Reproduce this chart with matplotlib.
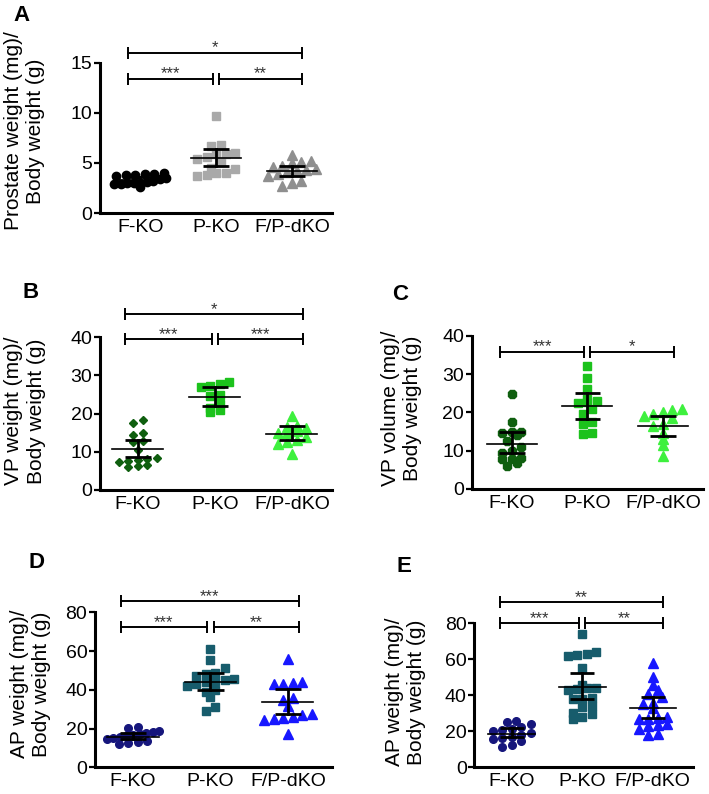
import matplotlib
matplotlib.use('Agg')
import matplotlib.pyplot as plt
import numpy as np

plt.rcParams['font.family'] = ['Liberation Sans', 'DejaVu Sans']

groups = ['F-KO', 'P-KO', 'F/P-dKO']

# A: prostate weight / body weight
a_fko = [4.0, 3.9, 3.9, 3.8, 3.8, 3.7, 3.5, 3.4, 3.2, 3.1, 3.0, 3.0, 3.0, 2.9, 2.9, 2.6]
a_pko = [9.7, 6.8, 6.7, 6.0, 5.9, 5.9, 5.6, 5.4, 5.1, 4.5, 4.4, 4.0, 4.0, 3.8, 3.7]
a_dko = [5.8, 5.2, 5.1, 5.0, 4.7, 4.6, 4.4, 4.3, 4.2, 4.1, 3.9, 3.7, 3.2, 3.0, 2.7]
a_mean = [3.3, 5.5, 4.2]
a_lo = [3.0, 4.7, 3.7]
a_hi = [3.6, 6.4, 4.7]

# B: VP weight / body weight
b_fko = [18.3, 17.5, 15.0, 14.5, 12.8, 12.5, 10.5, 8.3, 8.0, 7.8, 7.5, 7.3, 6.5, 6.3, 6.0]
b_pko = [28.2, 27.8, 27.2, 27.0, 25.0, 24.5, 22.5, 21.5, 21.0, 20.3]
b_dko = [19.3, 16.8, 16.5, 16.2, 15.5, 15.0, 14.8, 14.0, 13.0, 12.5, 12.0, 9.3]
b_mean = [10.7, 24.4, 14.7]
b_lo = [8.7, 22.1, 13.1]
b_hi = [13.0, 26.9, 16.75]

# C: VP volume / body weight
c_fko = [24.7, 17.5, 15.0, 14.8, 14.6, 14.0, 12.5, 11.0, 10.0, 9.5, 8.0, 7.8, 7.8, 6.8, 6.0]
c_pko = [32.0, 29.0, 26.0, 23.5, 23.0, 22.8, 22.5, 21.0, 19.5, 17.5, 17.0, 14.5, 14.3]
c_dko = [21.0, 20.5, 20.0, 19.5, 19.0, 18.5, 17.0, 16.5, 14.5, 13.0, 11.5, 8.6]
c_mean = [11.8, 21.7, 16.5]
c_lo = [9.3, 18.2, 13.9]
c_hi = [14.9, 25.1, 19.1]

# D: AP weight / body weight
d_fko = [21.0, 20.5, 18.5, 18.0, 17.5, 17.0, 16.5, 16.0, 15.5, 15.0, 14.5, 13.5, 13.0, 12.5, 12.0]
d_pko = [61, 55.5, 51, 48.5, 48, 47, 45.5, 45, 44.5, 44, 43, 42, 40, 39, 36.5, 31, 29]
d_dko = [56, 44, 43.5, 43, 43, 36, 34.5, 31.5, 27.5, 27, 26, 25.5, 25, 24.5, 17]
d_mean = [15.8, 43.9, 33.5]
d_lo = [14.6, 39.9, 27.5]
d_hi = [17.5, 48.5, 40.4]

# E: AP weight / body weight (second cohort)
e_fko = [25.5, 25.0, 24.0, 22.5, 21.5, 21.0, 20.0, 19.0, 18.0, 17.0, 16.5, 15.5, 14.5, 12.5, 11.5]
e_pko = [74, 64, 63, 62.5, 62, 55, 45.5, 44, 44, 43.5, 43, 38.5, 38, 38, 34, 33.5, 30, 29.5, 28, 27]
e_dko = [58, 50, 45.5, 43, 41, 39, 36, 35, 33, 28, 27.5, 27, 27, 24, 23.5, 23, 21.5, 18.5, 18]
e_mean = [18.5, 44.8, 32.8]
e_lo = [17.0, 37.9, 27.6]
e_hi = [21.7, 52.2, 38.9]

# significance comparisons: (group i, group j, label)
a_sig = [(0, 1, '***'), (1, 2, '**'), (0, 2, '*')]
b_sig = [(0, 1, '***'), (1, 2, '***'), (0, 2, '*')]
c_sig = [(0, 1, '***'), (1, 2, '*')]
d_sig = [(0, 1, '***'), (1, 2, '**'), (0, 2, '***')]
e_sig = [(0, 1, '***'), (1, 2, '**'), (0, 2, '**')]

W, H = 709, 794
fig = plt.figure(figsize=(W / 100, H / 100), dpi=100)

grey = ['black', '#a9a9a9', '#8f8f8f']
green = ['#0f5f0f', '#1cc21c', '#3ef03e']
blue = ['#16167c', '#175c6c', '#1717ff']

panels = [
    dict(letter='A', data=[a_fko, a_pko, a_dko], mean=a_mean, lo=a_lo, hi=a_hi, sig=a_sig,
         sig_y=[13.4, 13.4, 16.0], ylabel='Prostate weight (mg)/\nBody weight (g)',
         box=(100, 332, 213, 10.03), ytop=17, ticks=[0, 5, 10, 15], xlim=(-0.53, 2.53),
         colors=grey, markers=['o', 's', '^'], ms=[6, 5.5, 6.5],
         label_xy=(25, 131), letter_xy=(13, 21)),
    dict(letter='B', data=[b_fko, b_pko, b_dko], mean=b_mean, lo=b_lo, hi=b_hi, sig=b_sig,
         sig_y=[39.5, 39.5, 46.1], ylabel='VP weight (mg)/\nBody weight (g)',
         box=(100, 332, 490, 3.82), ytop=48, ticks=[0, 10, 20, 30, 40], xlim=(-0.49, 2.52),
         colors=green, markers=['D', 's', '^'], ms=[4.5, 5.5, 6.5],
         label_xy=(25, 411), letter_xy=(22, 298)),
    dict(letter='C', data=[c_fko, c_pko, c_dko], mean=c_mean, lo=c_lo, hi=c_hi, sig=c_sig,
         sig_y=[35.9, 35.9], ylabel='VP volume (mg)/\nBody weight (g)',
         box=(471.7, 703, 489, 3.83), ytop=42, ticks=[0, 10, 20, 30, 40], xlim=(-0.53, 2.53),
         colors=green, markers=['8', 's', '^'], ms=[6, 5.5, 6.5],
         label_xy=(401, 408), letter_xy=(392, 300)),
    dict(letter='D', data=[d_fko, d_pko, d_dko], mean=d_mean, lo=d_lo, hi=d_hi, sig=d_sig,
         sig_y=[72.6, 72.6, 85.8], ylabel='AP weight (mg)/\nBody weight (g)',
         box=(95, 332, 767.3, 1.9375), ytop=90, ticks=[0, 20, 40, 60, 80], xlim=(-0.49, 2.57),
         colors=blue, markers=['o', 's', '^'], ms=[5.5, 5.5, 6.5],
         label_xy=(30, 684), letter_xy=(28, 568)),
    dict(letter='E', data=[e_fko, e_pko, e_dko], mean=e_mean, lo=e_lo, hi=e_hi, sig=e_sig,
         sig_y=[80.3, 80.3, 92.0], ylabel='AP weight (mg)/\nBody weight (g)',
         box=(474.3, 693, 767.3, 1.8), ytop=96, ticks=[0, 20, 40, 60, 80], xlim=(-0.53, 2.57),
         colors=blue, markers=['o', 's', '^'], ms=[5.5, 5.5, 6.5],
         label_xy=(405, 692), letter_xy=(397, 572)),
]


def swarm_offsets(vals, row_units, step, max_half):
    # GraphPad-like column scatter: points in the same row spread sideways
    vals = np.asarray(vals, dtype=float)
    rows = np.floor(vals / row_units).astype(int)
    offs = np.zeros(len(vals))
    for r in np.unique(rows):
        idx = np.where(rows == r)[0]
        idx = idx[np.argsort(vals[idx])]
        n = len(idx)
        st = step if n < 2 else min(step, 2 * max_half / (n - 1))
        offs[idx] = (np.arange(n) - (n - 1) / 2) * st
    return offs


for p in panels:
    left, right, bottom, ppu = p['box']
    height = ppu * p['ytop']
    ax = fig.add_axes([left / W, 1 - bottom / H, (right - left) / W, height / H])
    ax.set_xlim(*p['xlim'])
    ax.set_ylim(0, p['ytop'])
    px_per_cat = (right - left) / (p['xlim'][1] - p['xlim'][0])

    for i, vals in enumerate(p['data']):
        offs = swarm_offsets(vals, 9.0 / ppu, 9.5 / px_per_cat, 0.34)
        ax.plot(i + offs, vals, linestyle='none', marker=p['markers'][i],
                ms=p['ms'][i], color=p['colors'][i], mec=p['colors'][i], zorder=2)
        # mean line and error bar
        ax.plot([i - 0.33, i + 0.33], [p['mean'][i]] * 2, color='black', lw=1.2, zorder=3)
        ax.plot([i, i], [p['lo'][i], p['hi'][i]], color='black', lw=2.0, zorder=3)
        for yv in (p['lo'][i], p['hi'][i]):
            ax.plot([i - 0.17, i + 0.17], [yv, yv], color='black', lw=2.0, zorder=3,
                    solid_capstyle='butt')

    for (i, j, lab), yv in zip(p['sig'], p['sig_y']):
        x1 = i - 0.16 if i == 0 else i + 0.04
        x2 = j + 0.14 if j == 2 else j - 0.04
        ax.plot([x1, x2], [yv, yv], color='black', lw=1.4, marker='|', ms=8, mew=1.4,
                clip_on=False, zorder=3)
        ax.text((x1 + x2) / 2, yv, lab, ha='center', va='baseline', fontsize=12,
                color='#333333')

    for s in ('top', 'right'):
        ax.spines[s].set_visible(False)
    for s in ('left', 'bottom'):
        ax.spines[s].set_linewidth(2.2)
    ax.spines['left'].set_bounds(0, p['ticks'][-1])
    ax.set_yticks(p['ticks'])
    ax.set_xticks(range(3))
    ax.set_xticklabels(groups)
    ax.tick_params(axis='y', direction='out', length=4, width=1.6, labelsize=14, pad=1.5)
    ax.tick_params(axis='x', length=0, labelsize=14, pad=4)

    ax.set_ylabel(p['ylabel'], fontsize=15, va='center', ha='center', multialignment='center')
    lx, ly = p['label_xy']
    ax.yaxis.set_label_coords((lx - left) / (right - left), (bottom - ly) / height)

    tx, ty = p['letter_xy']
    fig.text(tx / W, 1 - ty / H, p['letter'], fontsize=16, fontweight='bold',
             ha='left', va='baseline')

fig.savefig('out.png', dpi=100)
